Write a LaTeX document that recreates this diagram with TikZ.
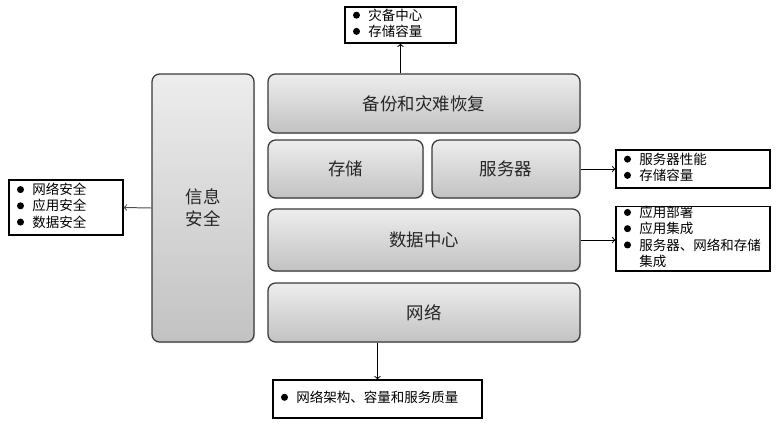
\documentclass[tikz,border=0pt]{standalone}
\usepackage{fontspec}
\setmainfont{Noto Sans CJK SC}
\usepackage{tikz}
\usetikzlibrary{arrows}
\usetikzlibrary{shadows}
\definecolor{blktop}{HTML}{EDEDED}
\definecolor{blkbot}{HTML}{C2C2C2}
\definecolor{blkedge}{HTML}{3A3A3A}
\tikzstyle{blk}=[rectangle, rounded corners=5.5pt, draw=blkedge, line width=.9pt, top color=blktop, bottom color=blkbot, drop shadow={opacity=.25, shadow xshift=.8pt, shadow yshift=-.8pt}, font=\fontsize{12.4}{15.3}\selectfont, text=black!85, align=center, inner sep=0pt]
\tikzstyle{lst}=[rectangle, draw=black, line width=.8pt, fill=white, font=\fontsize{9.6}{11.3}\selectfont, inner xsep=.2cm, inner ysep=0pt, align=left]
\newcommand{\bul}{\tikz[baseline=-3.6pt]\fill (0,0) circle (2.5pt);}

\begin{document}
\begin{tikzpicture}[x=.025cm, y=-.025cm]
    \useasboundingbox (0,0) rectangle (778,424);
    \node[blk, minimum width=7.8cm, minimum height=1.475cm] (bak) at (424,103.5) {备份和灾难恢复};
    \node[blk, minimum width=3.875cm, minimum height=1.45cm] (sto) at (345.5,169) {存储};
    \node[blk, minimum width=3.7cm, minimum height=1.45cm] (srv) at (506,169) {服务器};
    \node[blk, minimum width=7.8cm, minimum height=1.55cm] (dc) at (424,240) {数据中心};
    \node[blk, minimum width=7.8cm, minimum height=1.475cm] (net) at (424,312.5) {网络};
    \node[blk, minimum width=2.55cm, minimum height=6.7cm] (sec) at (203,208) {信息\\安全};
    \node[lst, text width=2.375cm, minimum height=.9cm] (bk) at (400.5,25) {\begin{tabular}{@{}l@{\hspace{6pt}}l@{}}\bul & 灾备中心\\ \bul & 存储容量\end{tabular}};
    \node[lst, text width=3.45cm, minimum height=.95cm] (sv) at (693,169) {\begin{tabular}{@{}l@{\hspace{6pt}}l@{}}\bul & 服务器性能\\ \bul & 存储容量\end{tabular}};
    \node[lst, text width=3.45cm, minimum height=1.525cm] (dl) at (693,238.5) {\begin{tabular}{@{}l@{\hspace{6pt}}l@{}}\bul & 应用部署\\ \bul & 应用集成\\ \bul & 服务器、网络和存储\\ & 集成\end{tabular}};
    \node[lst, text width=2.45cm, minimum height=1.375cm] (sl) at (66,207.5) {\begin{tabular}{@{}l@{\hspace{6pt}}l@{}}\bul & 网络安全\\ \bul & 应用安全\\ \bul & 数据安全\end{tabular}};
    \node[lst, text width=4.825cm, minimum height=.95cm] (nl) at (377.5,399) {\begin{tabular}{@{}l@{\hspace{6pt}}l@{}}\bul & 网络架构、容量和服务质量\end{tabular}};
    \draw[->, line width=.7pt] (bk.south |- bak.north) -- (bk.south);
    \draw[->, line width=.7pt] (srv.east) -- (sv.west);
    \draw[->, line width=.7pt] (dc.east) -- (dc.east -| dl.west);
    \draw[->, line width=.7pt] (nl.north |- net.south) -- (nl.north);
    \draw[->, line width=.7pt, black!70] (sec.west) -- (sl.east);
\end{tikzpicture}
\end{document}
